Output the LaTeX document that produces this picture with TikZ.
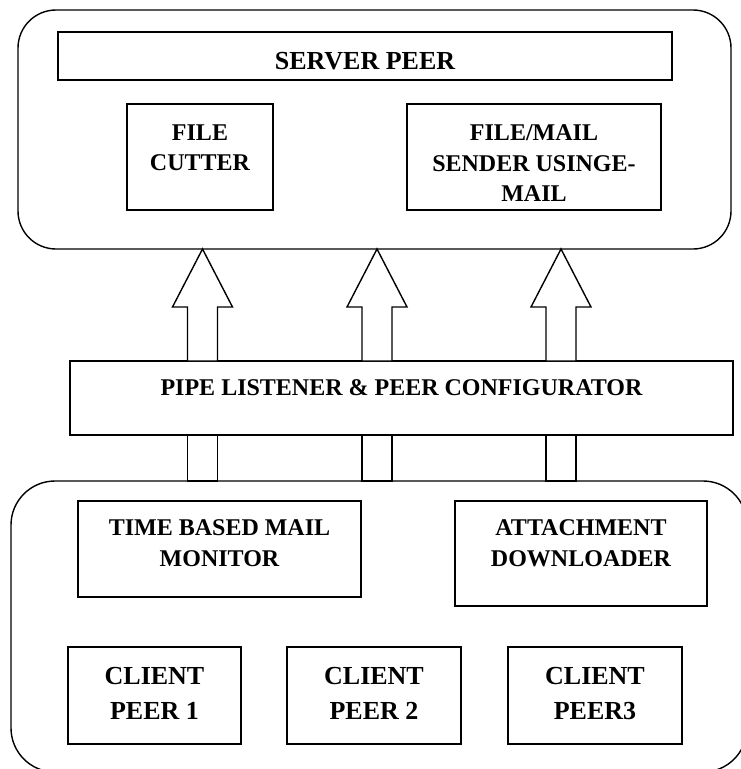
\documentclass[tikz,border=0pt]{standalone}
\usepackage{fontspec}
\setmainfont{Liberation Serif}
\begin{document}
\begin{tikzpicture}[x=1pt,y=-1pt,line width=1.4pt,
  box/.style={draw,rectangle,inner sep=0pt},
  outer/.style={draw,rectangle,inner sep=0pt,rounded corners=38pt},
  lbl/.style={font=\bfseries\fontsize{24}{30.5}\selectfont,align=center,anchor=north,inner sep=0pt},
  biglbl/.style={font=\bfseries\fontsize{26}{35}\selectfont,align=center,anchor=north,inner sep=0pt},
  blockarrow/.style={draw,fill=white,line join=miter}]
\useasboundingbox (0,0) rectangle (741,769);
\clip (0,0) rectangle (741,769);
% server side
\node[outer,minimum width=713pt,minimum height=239pt] (server) at (374.5,129.5) {};
\node[box,minimum width=614pt,minimum height=48pt] (serverpeer) at (365,56) {};
\node[biglbl] (serverpeertxt) at (365,51.5) {SERVER PEER};
\node[box,minimum width=146pt,minimum height=106pt] (cutter) at (200,157) {};
\node[lbl] (cuttertxt) at (200,124) {FILE\\CUTTER};
\node[box,minimum width=254pt,minimum height=106pt] (sender) at (534,157) {};
\node[lbl] (sendertxt) at (534,124) {FILE/MAIL\\SENDER USINGE-\\MAIL};
% configurator
\node[box,minimum width=663pt,minimum height=74pt] (config) at (401.5,398) {};
\node[lbl] (configtxt) at (401.5,379) {PIPE LISTENER \& PEER CONFIGURATOR};
% client side
\node[outer,rounded corners=44pt,minimum width=736pt,minimum height=291pt] (client) at (379,626.5) {};
\node[box,minimum width=283pt,minimum height=96pt] (monitor) at (219.5,549) {};
\node[lbl] (monitortxt) at (219.5,519) {TIME BASED MAIL\\MONITOR};
\node[box,minimum width=252pt,minimum height=105pt] (download) at (581,553.5) {};
\node[lbl] (downloadtxt) at (581,519) {ATTACHMENT\\DOWNLOADER};
\node[box,minimum width=173pt,minimum height=97pt] (cp1) at (154.5,695.5) {};
\node[biglbl] (cp1txt) at (154.5,666.5) {CLIENT\\PEER 1};
\node[box,minimum width=174pt,minimum height=97pt] (cp2) at (374,695.5) {};
\node[biglbl] (cp2txt) at (374,666.5) {CLIENT\\PEER 2};
\node[box,minimum width=174pt,minimum height=97pt] (cp3) at (595,695.5) {};
\node[biglbl] (cp3txt) at (595,666.5) {CLIENT\\PEER3};
% block arrows
\foreach \c/\n in {202.5/a1,377/a2,561/a3}{
  \coordinate (\n) at (\c,249);
  \draw[blockarrow] (\n) -- ++(30,58) -- ++(-15,0) -- ++(0,54) -- ++(-30,0) -- ++(0,-54) -- ++(-15,0) -- cycle;
  \draw[blockarrow] (\c-15,435) rectangle (\c+15,481);
}
\end{tikzpicture}
\end{document}
